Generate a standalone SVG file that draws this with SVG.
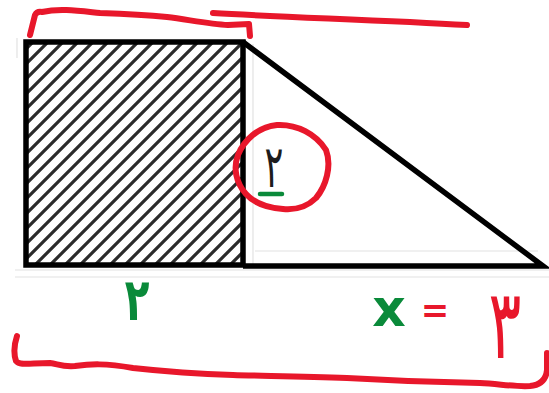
<svg xmlns="http://www.w3.org/2000/svg" width="549" height="393" viewBox="0 0 549 393">
  <defs>
    <pattern id="hatch" patternUnits="userSpaceOnUse" width="15" height="15">
      <path d="M0,15 L15,0 M-3.75,3.75 L3.75,-3.75 M11.25,18.75 L18.75,11.25" stroke="#2b2b2b" stroke-width="3.2"/>
    </pattern>
  </defs>
  <style>
    .outline { fill: none; stroke: #000; stroke-width: 5.5; stroke-linejoin: miter; }
    .faint { stroke: #e2e2e2; stroke-width: 1.2; fill: none; }
    .red { fill: none; stroke: #e8172b; stroke-width: 6; stroke-linecap: round; stroke-linejoin: round; }
    .green { fill: none; stroke: #0a8a3a; stroke-width: 4.5; stroke-linecap: round; }
    .num { font-family: "DejaVu Sans", "Noto Sans", sans-serif; text-anchor: middle; }
  </style>
  <rect width="549" height="393" fill="#ffffff"/>

  <g id="background-lines">
    <line class="faint" x1="253" y1="44" x2="253" y2="264"/>
    <line class="faint" x1="255" y1="251" x2="538" y2="251"/>
    <line class="faint" x1="15" y1="270" x2="549" y2="270"/>
    <line class="faint" x1="15" y1="277" x2="549" y2="277"/>
    <line class="faint" x1="17" y1="38" x2="17" y2="58"/>
  </g>

  <g id="square">
    <rect x="26" y="42" width="217" height="223" fill="url(#hatch)"/>
    <rect class="outline" x="26" y="42" width="217" height="223"/>
  </g>

  <g id="triangle">
    <path class="outline" d="M243,42 L543,266 L243,266"/>
  </g>

  <g id="label-height">
    <text class="num" transform="translate(274,187) scale(0.8,1.35)" font-size="44" fill="#1c1c1c">۲</text>
    <line class="green" x1="260" y1="194" x2="282" y2="194"/>
    <path class="red" d="M277,125 C297,124 316,134 326,150 C332,166 326,186 316,198 C306,208 294,210 283,209 C268,208 255,204 246,194 C236,183 233,168 238,155 C244,140 258,127 277,125 Z"/>
  </g>

  <g id="annotations">
    <path class="red" d="M30,35 L35,15 Q37,11 42,12 C60,8 80,11 100,13 C125,14 145,15 167,17 C190,20 210,24 228,25 L249,24 L250,36"/>
    <path class="red" d="M213,13 C280,17 380,20 467,25"/>
    <path class="red" d="M17,336 C14,345 14,355 16,361 C20,366 30,363 50,363 C58,364 62,367 75,366 C90,364 105,363 133,368 C160,371 200,374 233,375 C260,376 300,376 347,378 C380,380 413,382 480,383 C500,384 515,387 530,386 C540,385 546,380 547,370 L547,353"/>
    <text class="num" transform="translate(137,320) scale(0.75,1.1)" font-size="54" font-weight="bold" fill="#0a8a3a">۲</text>
    <text class="num" x="389" y="326" font-size="52" font-weight="bold" fill="#0a8a3a">x</text>
    <text class="num" x="435" y="322" font-size="34" font-weight="bold" fill="#e8172b">=</text>
    <text class="num" transform="translate(505,358) scale(0.85,1.35)" font-size="72" fill="#e8172b">۳</text>
  </g>
</svg>
